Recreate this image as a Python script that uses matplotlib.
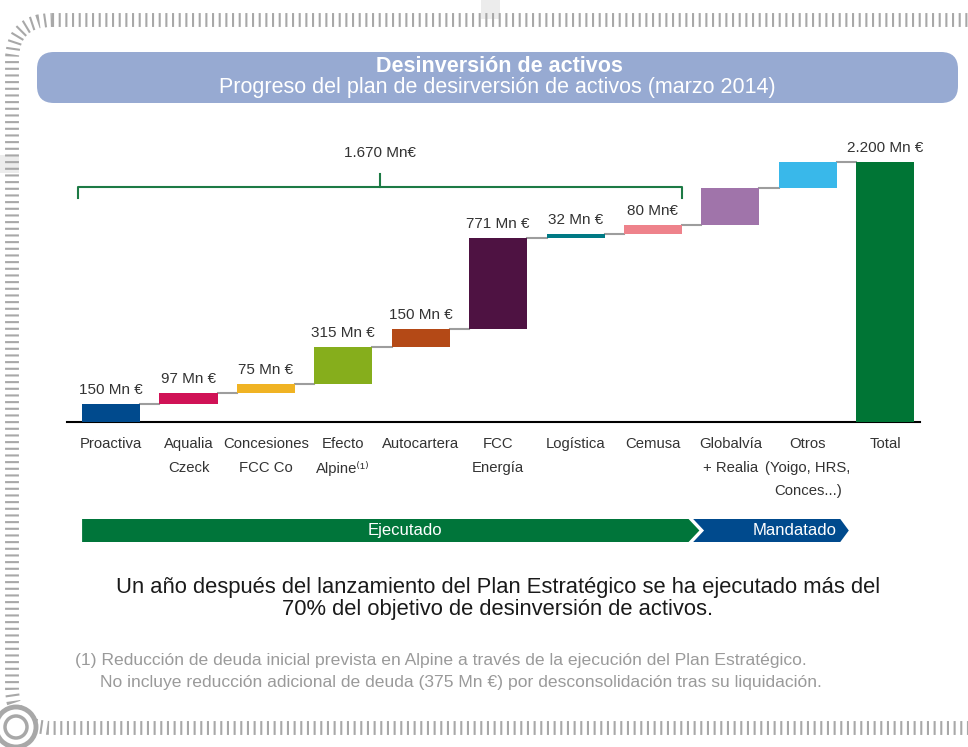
# Cascada de desinversión de activos (marzo 2014)
import numpy as np
import matplotlib.pyplot as plt
import matplotlib.transforms as mtransforms
from matplotlib.patches import FancyBboxPatch, Polygon, Circle, Rectangle

plt.rcParams['font.family'] = ['Liberation Sans', 'DejaVu Sans']
plt.rcParams['lines.scale_dashes'] = False

categories = ['Proactiva', 'Aqualia\nCzeck', 'Concesiones\nFCC Co', 'Efecto\nAlpine⁽¹⁾',
              'Autocartera', 'FCC\nEnergía', 'Logística', 'Cemusa',
              'Globalvía\n+ Realia', 'Otros\n(Yoigo, HRS,\nConces...)', 'Total']
values = [150, 97, 75, 315, 150, 771, 32, 80, 310, 220]
total = 2200
value_labels = ['150 Mn €', '97 Mn €', '75 Mn €', '315 Mn €', '150 Mn €', '771 Mn €',
                '32 Mn €', '80 Mn€', '', '', '2.200 Mn €']
colors = ['#004a8d', '#d01256', '#f0b323', '#86ae1c', '#b44916', '#4e1242',
          '#007a85', '#ee828b', '#a074aa', '#39b8ea', '#007535']
executed_label = '1.670 Mn€'
n_executed = 8

bottoms = np.concatenate([[0], np.cumsum(values)[:-1], [0]])
heights = np.array(values + [total])
x = np.arange(len(categories))
w = 0.75

fig = plt.figure(figsize=(9.68, 7.47), dpi=100)

# fondo decorativo en coordenadas de pixel
bg = fig.add_axes([0, 0, 1, 1], zorder=0)
bg.set_xlim(0, 968)
bg.set_ylim(747, 0)
bg.axis('off')
bg.add_patch(Rectangle((481, 0), 19, 19, color='#ececec', lw=0))
bg.add_patch(Rectangle((0, 155), 19, 18, color='#ececec', lw=0))
bg.add_patch(FancyBboxPatch((12, 20), 1000, 708, boxstyle='round,pad=0,rounding_size=40',
                            fc='none', ec='#a8a8a8', lw=10, linestyle=(0, (1.5, 3.3)),
                            capstyle='butt'))
bg.add_patch(Circle((16, 727), 20, fc='white', ec='#a8a8a8', lw=3.5))
bg.add_patch(Circle((16, 727), 11, fc='white', ec='#a8a8a8', lw=2.5))
bg.add_patch(FancyBboxPatch((37, 52), 921, 51, boxstyle='round,pad=0,rounding_size=17',
                            fc='#97aad2', ec='none'))
bg.text(499, 67, 'Desinversión de activos', ha='center', va='center', color='white',
        fontsize=15.5, fontweight='bold')
bg.text(497, 88, 'Progreso del plan de desirversión de activos (marzo 2014)', ha='center',
        va='center', color='white', fontsize=15.5)
bg.text(498, 587, 'Un año después del lanzamiento del Plan Estratégico se ha ejecutado más del',
        ha='center', va='center', color='#1a1a1a', fontsize=15.8)
bg.text(498, 610, '70% del objetivo de desinversión de activos.', ha='center', va='center',
        color='#1a1a1a', fontsize=15.8)
bg.text(75, 661, '(1) Reducción de deuda inicial prevista en Alpine a través de la ejecución del Plan Estratégico.',
        ha='left', va='center', color='#9a9a9a', fontsize=12.6)
bg.text(100, 683, 'No incluye reducción adicional de deuda (375 Mn €) por desconsolidación tras su liquidación.',
        ha='left', va='center', color='#9a9a9a', fontsize=12.6)

# grafico principal
ax = fig.add_axes([67 / 968, (747 - 422) / 747, 853 / 968, 282 / 747], zorder=1)
ax.set_facecolor('none')
ax.bar(x, heights, w, bottom=bottoms, color=colors, zorder=3)

tops = bottoms + heights
for i in range(len(x) - 1):
    ax.plot([x[i] + w / 2, x[i + 1] - w / 2], [tops[i], tops[i]], color='#9d9d9d', lw=1.5, zorder=2)

for xi, t, lbl in zip(x, tops, value_labels):
    if lbl:
        ax.annotate(lbl, (xi, t), xytext=(0, 5), textcoords='offset points', ha='center',
                    va='bottom', fontsize=11, color='#333333')

# llave del total ejecutado
left = x[0] - w / 2 - 0.05
right = x[n_executed - 1] + w / 2
mid = (left + right) / 2
ax.plot([left, left, right, right], [1895, 1988, 1988, 1895], color='#1d7a45', lw=1.5, clip_on=False)
ax.plot([mid, mid], [1988, 2098], color='#1d7a45', lw=1.5, clip_on=False)
ax.text(mid, 2276, executed_label, ha='center', va='center', fontsize=11, color='#333333')

ax.set_xlim(-0.57, 10.45)
ax.set_ylim(0, 2386)
ax.set_yticks([])
ax.set_xticks(x, categories, fontsize=10.7, color='#333333', linespacing=1.85)
ax.tick_params(axis='x', length=0, pad=11)
for s in ['top', 'right', 'left']:
    ax.spines[s].set_visible(False)
ax.spines['bottom'].set_linewidth(1.5)

# bandas Ejecutado / Mandatado
tr = mtransforms.blended_transform_factory(ax.transData, bg.transData)
ytop, ymid, ybot = 519, 530.5, 542
g_end = 7.46
bg.add_patch(Polygon([(x[0] - w / 2, ytop), (g_end, ytop), (g_end + 0.14, ymid), (g_end, ybot),
                      (x[0] - w / 2, ybot)], closed=True, fc='#00753a', ec='none', transform=tr))
b_start, b_end = 7.52, 9.42
bg.add_patch(Polygon([(b_start, ytop), (b_end, ytop), (b_end + 0.11, ymid), (b_end, ybot),
                      (b_start, ybot), (b_start + 0.14, ymid)], closed=True, fc='#004a8d',
                     ec='none', transform=tr))
bg.text(3.8, ymid, 'Ejecutado', transform=tr, ha='center', va='center', color='white', fontsize=12)
bg.text(9.37, ymid, 'Mandatado', transform=tr, ha='right', va='center', color='white', fontsize=12)

fig.savefig('out.png', dpi=100)
